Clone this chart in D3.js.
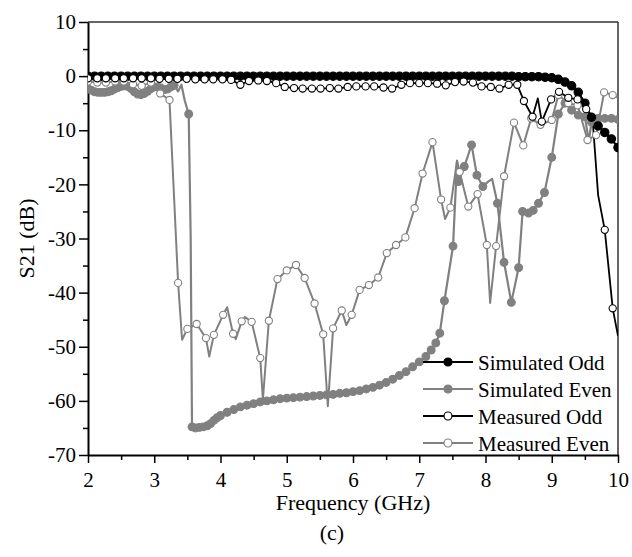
<!DOCTYPE html>
<html>
<head>
<meta charset="utf-8">
<script src="https://cdn.jsdelivr.net/npm/d3@7"></script>
<style>
  html, body { margin: 0; padding: 0; background: #fff; }
  svg { display: block; }
  svg text { font-family: "Liberation Serif", "Times New Roman", Times, "DejaVu Serif", "Noto Serif", "Noto Serif CJK SC", "FreeSerif", serif !important; fill: #000; }
</style>
</head>
<body>
<svg id="chart" width="632" height="557"></svg>
<script>
// ---------------- data ----------------
const xTicks = [2, 3, 4, 5, 6, 7, 8, 9, 10];
const yTicks = [-70, -60, -50, -40, -30, -20, -10, 0, 10];

// Simulated Odd: sweep 2.0 .. 10.0 GHz, step 0.1 GHz
const simOddStart = 2.0, simOddStep = 0.1;
const simOddValues = [
  0,0,0,0,0,0,0,0,0,0,          // 2.0-2.9
  0,0,0,0,0,0,0,0,0,0,          // 3.0-3.9
  0,0,0,0,0,0,0,0,0,0,          // 4.0-4.9
  0,0,0,0,0,0,0,0,0,0,          // 5.0-5.9
  0,0,0,0,0,0,0,0,0,0,          // 6.0-6.9
  0,0,0,0,0,0,0,0,0,0,          // 7.0-7.9
  0,0,0,0,0,-0.1,-0.1,-0.1,-0.1,-0.2,   // 8.0-8.9
  -0.3,-0.6,-1.1,-1.8,-3.0,-5.0,-7.6,-9.2,-10.4,-11.6, // 9.0-9.9
  -13.2                          // 10.0
];

// Simulated Even: [GHz, dB, marker?(1 = marker, 0 = line only)]
const simEven = [
  [2.0,-2.3,1],[2.05,-2.6,1],[2.1,-2.9,1],[2.15,-3.0,1],[2.2,-3.0,1],[2.25,-3.0,1],
  [2.3,-2.9,1],[2.35,-2.7,1],[2.4,-2.4,1],[2.45,-2.1,1],[2.5,-1.9,1],[2.55,-1.8,1],
  [2.6,-1.9,1],[2.65,-2.3,1],[2.7,-2.9,1],[2.75,-3.3,1],[2.8,-3.4,1],[2.85,-3.2,1],
  [2.9,-2.8,1],[2.95,-2.3,1],[3.0,-2.0,1],[3.05,-2.0,1],[3.1,-2.2,1],[3.15,-2.5,1],
  [3.2,-2.4,1],[3.25,-2.0,1],[3.3,-1.7,1],[3.36,-2.8,0],[3.41,-1.6,0],[3.46,-4.5,0],
  [3.52,-7.0,1],[3.55,-30,0],[3.57,-64.8,1],[3.62,-65.0,1],[3.68,-64.9,1],[3.74,-64.8,1],
  [3.8,-64.6,1],[3.85,-64.2,1],[3.9,-63.6,1],[3.95,-63.1,1],[4.0,-62.7,1],[4.1,-62.1,1],
  [4.2,-61.6,1],[4.3,-61.1,1],[4.4,-60.8,1],[4.5,-60.5,1],[4.6,-60.2,1],[4.7,-60.0,1],
  [4.8,-59.8,1],[4.9,-59.6,1],[5.0,-59.5,1],[5.1,-59.4,1],[5.2,-59.3,1],[5.3,-59.2,1],
  [5.4,-59.1,1],[5.5,-59.0,1],[5.6,-58.9,1],[5.7,-58.8,1],[5.8,-58.6,1],[5.9,-58.5,1],
  [6.0,-58.3,1],[6.1,-58.1,1],[6.2,-57.8,1],[6.3,-57.5,1],[6.4,-57.1,1],[6.5,-56.6,1],
  [6.6,-56.0,1],[6.7,-55.3,1],[6.8,-54.6,1],[6.9,-53.7,1],[7.0,-52.8,1],[7.1,-51.8,1],
  [7.18,-50.6,1],[7.25,-49.3,1],[7.31,-47.5,1],[7.38,-41.5,1],[7.51,-31.4,1],[7.57,-15.8,0],
  [7.59,-19.5,1],[7.68,-16.7,1],[7.79,-12.7,1],[7.87,-18.3,1],[7.96,-20.4,1],[8.04,-19.5,0],
  [8.1,-19.0,0],[8.18,-23.5,1],[8.28,-34.4,1],[8.39,-41.8,1],[8.5,-35.4,1],[8.56,-25.0,1],
  [8.65,-25.3,1],[8.72,-24.8,1],[8.8,-23.5,1],[8.89,-21.5,1],[9.0,-15.0,1],[9.1,-7.0,1],
  [9.2,-5.0,1],[9.3,-6.3,1],[9.4,-7.2,1],[9.5,-7.5,1],[9.56,-12.0,0],[9.6,-8.5,1],
  [9.7,-7.8,1],[9.8,-7.8,1],[9.9,-7.8,1],[10.0,-8.0,1]
];

// Measured Odd: [GHz, dB, marker?]
const measOdd = [
  [2.0,-0.4,1],[2.14,-0.4,1],[2.27,-0.4,1],[2.41,-0.4,1],[2.54,-0.4,1],[2.68,-0.4,1],
  [2.81,-0.4,1],[2.95,-0.4,1],[3.08,-0.5,1],[3.22,-0.5,1],[3.35,-0.5,1],[3.49,-0.5,1],
  [3.62,-0.6,1],[3.76,-0.6,1],[3.89,-0.6,1],[4.03,-0.6,1],[4.16,-0.7,1],[4.3,-1.6,1],
  [4.43,-0.9,1],[4.57,-0.8,1],[4.7,-0.9,1],[4.84,-1.3,1],[4.97,-2.0,1],[5.11,-2.2,1],
  [5.24,-2.3,1],[5.38,-2.3,1],[5.51,-2.3,1],[5.65,-2.2,1],[5.78,-2.3,1],[5.92,-2.0,1],
  [6.05,-1.9,1],[6.19,-1.9,1],[6.32,-1.9,1],[6.46,-2.1,1],[6.59,-2.3,1],[6.73,-1.6,1],
  [6.86,-1.3,1],[7.0,-1.3,1],[7.13,-1.3,1],[7.27,-1.4,1],[7.4,-1.7,1],[7.54,-1.1,1],
  [7.67,-1.0,1],[7.81,-1.2,1],[7.94,-1.9,1],[8.08,-2.0,1],[8.21,-2.3,1],[8.35,-1.6,1],
  [8.48,-1.6,1],[8.58,-4.6,1],[8.71,-7.5,1],[8.79,-4.1,0],[8.85,-8.4,1],[8.99,-4.3,1],
  [9.11,-2.9,1],[9.25,-4.0,1],[9.39,-4.3,1],[9.52,-6.1,1],[9.62,-8.5,0],[9.7,-22.0,0],
  [9.8,-28.4,1],[9.92,-42.9,1],[10.0,-48.0,0]
];

// Measured Even: [GHz, dB, marker?]
const measEven = [
  [2.0,-1.0,1],[2.14,-1.2,1],[2.27,-1.2,1],[2.41,-1.0,1],[2.54,-1.0,1],[2.68,-1.5,1],
  [2.81,-1.8,1],[2.95,-1.2,1],[3.09,-3.2,1],[3.23,-4.4,1],[3.36,-38.2,1],[3.42,-48.7,0],
  [3.5,-46.7,1],[3.64,-45.8,1],[3.78,-48.4,1],[3.83,-51.8,0],[3.9,-47.8,1],[4.04,-44.1,1],
  [4.1,-42.7,0],[4.19,-47.6,1],[4.23,-48.6,0],[4.32,-45.3,1],[4.37,-44.5,0],[4.47,-45.4,1],
  [4.6,-52.1,1],[4.64,-59.8,0],[4.73,-45.2,1],[4.86,-37.5,1],[5.0,-35.9,1],[5.14,-34.9,1],
  [5.27,-37.3,1],[5.42,-42.0,1],[5.55,-47.7,1],[5.62,-61.0,0],[5.7,-46.6,1],[5.83,-43.3,1],
  [5.9,-46.0,0],[5.98,-44.1,1],[6.1,-39.5,1],[6.24,-38.6,1],[6.38,-37.2,1],[6.51,-32.7,1],
  [6.65,-31.2,1],[6.79,-29.8,1],[6.93,-24.4,1],[7.05,-18.0,1],[7.2,-12.2,1],[7.33,-22.8,1],
  [7.39,-26.4,0],[7.47,-24.3,1],[7.57,-15.6,0],[7.61,-17.7,1],[7.74,-24.1,1],[7.88,-21.8,1],
  [8.02,-31.2,1],[8.07,-41.9,0],[8.16,-31.4,1],[8.28,-18.5,1],[8.43,-8.6,1],[8.57,-12.8,1],
  [8.69,-7.8,1],[8.83,-9.0,1],[9.0,-8.1,1],[9.1,-3.5,1],[9.25,-5.0,1],[9.39,-5.4,1],
  [9.54,-11.8,1],[9.67,-10.9,1],[9.79,-3.0,1],[9.92,-3.5,1],[10.0,-4.0,0]
];

const legendLabels = ["Simulated Odd", "Simulated Even", "Measured Odd", "Measured Even"];

// ---------------- drawing ----------------
const SERIF = "'Liberation Serif', 'Times New Roman', Times, 'DejaVu Serif', 'Noto Serif', 'Noto Serif CJK SC', FreeSerif, serif";
const GRAY = "#808080", BLACK = "#000";
const svg = d3.select("#chart");
const L = 88, R = 618, T = 22, B = 455;

const x = d3.scaleLinear().domain([2, 10]).range([L, R]);
const y = d3.scaleLinear().domain([-70, 10]).range([B, T]);

svg.append("defs").append("clipPath").attr("id", "clip")
  .append("rect").attr("x", L).attr("y", T).attr("width", R - L).attr("height", B - T);

// frame top / right
svg.append("line").attr("x1", L).attr("x2", R).attr("y1", T).attr("y2", T)
  .attr("stroke", "#333").attr("stroke-width", 1.5);
svg.append("line").attr("x1", R).attr("x2", R).attr("y1", T).attr("y2", B)
  .attr("stroke", "#333").attr("stroke-width", 1.5);

// minor ticks
const xMinor = xTicks.slice(0, -1).map(d => d + 0.5);
const yMinor = yTicks.slice(0, -1).map(d => d + 5);
svg.append("g").attr("transform", `translate(0,${B})`)
  .call(d3.axisBottom(x).tickValues(xMinor).tickSize(5).tickFormat(""))
  .call(g => g.select(".domain").remove())
  .call(g => g.selectAll("line").attr("stroke-width", 1.5));
svg.append("g").attr("transform", `translate(${L},0)`)
  .call(d3.axisLeft(y).tickValues(yMinor).tickSize(5).tickFormat(""))
  .call(g => g.select(".domain").remove())
  .call(g => g.selectAll("line").attr("stroke-width", 1.5));

// major axes
const xAxis = svg.append("g").attr("transform", `translate(0,${B})`)
  .call(d3.axisBottom(x).tickValues(xTicks).tickSize(8).tickSizeOuter(0).tickPadding(9).tickFormat(d => String(d)));
const yAxis = svg.append("g").attr("transform", `translate(${L},0)`)
  .call(d3.axisLeft(y).tickValues(yTicks).tickSize(9).tickSizeOuter(0).tickPadding(3).tickFormat(d => String(d)));
[xAxis, yAxis].forEach(g => {
  g.attr("font-family", null);
  g.select(".domain").attr("stroke-width", 2);
  g.selectAll(".tick line").attr("stroke-width", 1.5);
  g.selectAll("text").style("font-family", SERIF).attr("font-size", 21).attr("fill", "#000");
});

// series
const plot = svg.append("g").attr("clip-path", "url(#clip)");
const line = d3.line().x(d => x(d[0])).y(d => y(d[1]));

const simOdd = simOddValues.map((v, i) => [simOddStart + i * simOddStep, v, 1]);

const series = [
  { data: simEven, color: GRAY, fill: GRAY, lw: 2.2, r: 3.9 },
  { data: simOdd, color: BLACK, fill: BLACK, lw: 2.2, r: 4.2 },
  { data: measEven, color: GRAY, fill: "#fff", lw: 2, r: 3.6 },
  { data: measOdd, color: BLACK, fill: "#fff", lw: 1.8, r: 3.6 }
];

series.forEach(s => {
  plot.append("path").datum(s.data).attr("d", line)
    .attr("fill", "none").attr("stroke", s.color).attr("stroke-width", s.lw)
    .attr("stroke-linejoin", "round");
});
series.forEach(s => {
  plot.append("g").selectAll("circle").data(s.data.filter(d => d[2] === 1)).join("circle")
    .attr("cx", d => x(d[0])).attr("cy", d => y(d[1])).attr("r", s.r)
    .attr("fill", s.fill).attr("stroke", s.color).attr("stroke-width", 1.1);
});

// legend
const legendStyles = [series[1], series[0], series[3], series[2]];
const lg = svg.append("g");
legendLabels.forEach((lab, i) => {
  const yy = 362 + i * 27;
  const s = legendStyles[i];
  lg.append("line").attr("x1", 423).attr("x2", 473).attr("y1", yy).attr("y2", yy)
    .attr("stroke", s.color).attr("stroke-width", 2.2);
  lg.append("circle").attr("cx", 448).attr("cy", yy).attr("r", 4)
    .attr("fill", s.fill).attr("stroke", s.color).attr("stroke-width", 1.2);
  lg.append("text").attr("x", 478).attr("y", yy + 7.5).attr("font-size", 21)
    .style("font-family", SERIF).text(lab);
});

// titles
svg.append("text").attr("x", (L + R) / 2).attr("y", 509.5).attr("text-anchor", "middle")
  .attr("font-size", 22).style("font-family", SERIF).text("Frequency (GHz)");
svg.append("text").attr("transform", `translate(34,${(T + B) / 2}) rotate(-90)`)
  .attr("text-anchor", "middle").attr("font-size", 22).style("font-family", SERIF).text("S21 (dB)");
svg.append("text").attr("x", 332).attr("y", 540).attr("text-anchor", "middle")
  .attr("font-size", 22).style("font-family", SERIF).text("(c)");
</script>
</body>
</html>
